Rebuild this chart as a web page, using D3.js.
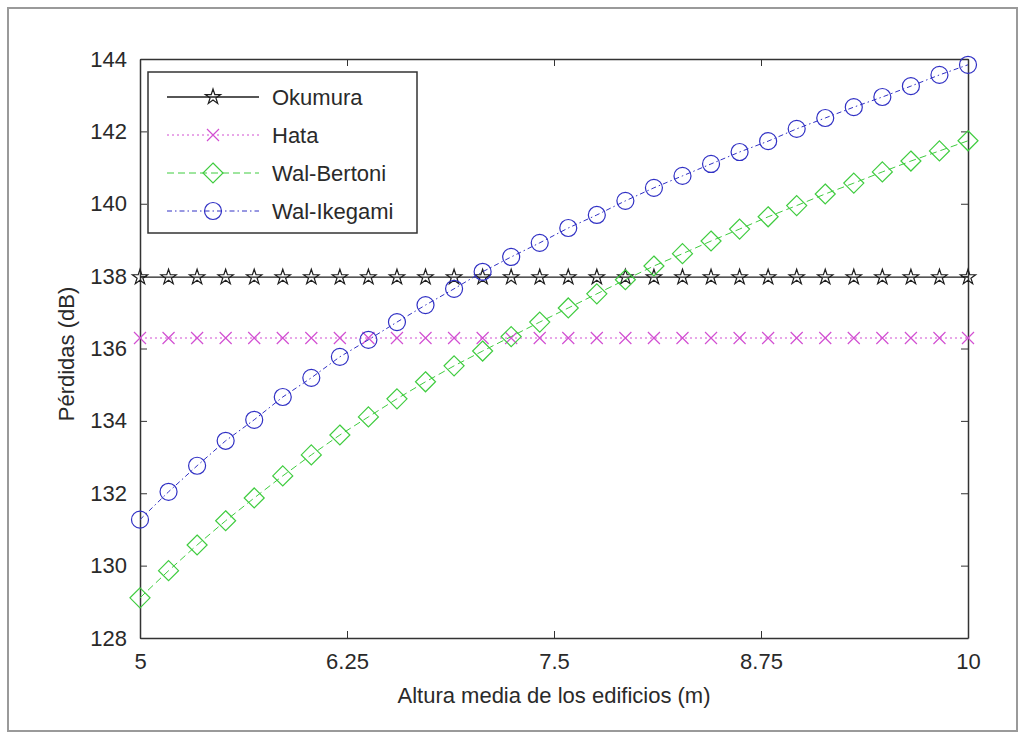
<!DOCTYPE html>
<html>
<head>
<meta charset="utf-8">
<script src="https://cdn.jsdelivr.net/npm/d3@7"></script>
<style>
  html, body { margin: 0; padding: 0; background: #fff; }
  svg { display: block; font-family: "Liberation Sans", Arial, sans-serif; }
</style>
</head>
<body>
<svg id="chart" width="1023" height="738"></svg>
<script>
// ---- data ----
const alturas = [5.0000, 5.1724, 5.3448, 5.5172, 5.6897, 5.8621, 6.0345, 6.2069, 6.3793, 6.5517,
                 6.7241, 6.8966, 7.0690, 7.2414, 7.4138, 7.5862, 7.7586, 7.9310, 8.1034, 8.2759,
                 8.4483, 8.6207, 8.7931, 8.9655, 9.1379, 9.3103, 9.4828, 9.6552, 9.8276, 10.0000];
const okumura = [137.97, 137.97, 137.97, 137.97, 137.97, 137.97, 137.97, 137.97, 137.97, 137.97,
                 137.97, 137.97, 137.97, 137.97, 137.97, 137.97, 137.97, 137.97, 137.97, 137.97,
                 137.97, 137.97, 137.97, 137.97, 137.97, 137.97, 137.97, 137.97, 137.97, 137.97];
const hata = [136.29, 136.29, 136.29, 136.29, 136.29, 136.29, 136.29, 136.29, 136.29, 136.29,
              136.29, 136.29, 136.29, 136.29, 136.29, 136.29, 136.29, 136.29, 136.29, 136.29,
              136.29, 136.29, 136.29, 136.29, 136.29, 136.29, 136.29, 136.29, 136.29, 136.29];
const walBertoni = [129.11, 129.86, 130.57, 131.24, 131.87, 132.48, 133.06, 133.61, 134.11, 134.61,
                    135.08, 135.52, 135.93, 136.33, 136.73, 137.12, 137.51, 137.90, 138.28, 138.62,
                    138.97, 139.30, 139.64, 139.95, 140.27, 140.57, 140.88, 141.18, 141.46, 141.74];
const walIkegami = [131.27, 132.04, 132.76, 133.45, 134.03, 134.66, 135.19, 135.77, 136.24, 136.73,
                    137.20, 137.65, 138.12, 138.53, 138.92, 139.33, 139.69, 140.08, 140.44, 140.77,
                    141.10, 141.43, 141.73, 142.07, 142.37, 142.67, 142.95, 143.25, 143.56, 143.84];
const seriesNames = ["Okumura", "Hata", "Wal-Bertoni", "Wal-Ikegami"];
const xTicks = [5, 6.25, 7.5, 8.75, 10];
const xTickLabels = ["5", "6.25", "7.5", "8.75", "10"];
const yTicks = [128, 130, 132, 134, 136, 138, 140, 142, 144];
const xTitle = "Altura media de los edificios (m)";
const yTitle = "Pérdidas (dB)";

// ---- layout ----
const svg = d3.select("#chart");
const W = 1023, H = 738;
const m = { left: 140, top: 59, right: 1023 - 968, bottom: 738 - 638 };
const pw = W - m.left - m.right, ph = H - m.top - m.bottom;

// outer figure frame
svg.append("rect").attr("x", 8).attr("y", 8).attr("width", 1009).attr("height", 723)
  .attr("fill", "#fff").attr("stroke", "#9a9a9a").attr("stroke-width", 2);

const x = d3.scaleLinear().domain([5, 10]).range([m.left, m.left + pw]);
const y = d3.scaleLinear().domain([128, 144]).range([m.top + ph, m.top]);

const axisColor = "#333";
const fontSize = 22;
const textColor = "#2a2a2a";

// axes box
const g = svg.append("g");
const xAxisB = d3.axisBottom(x).tickValues(xTicks).tickFormat((d, i) => xTickLabels[i])
  .tickSizeInner(-7).tickSizeOuter(0).tickPadding(15);
const xb = g.append("g").attr("transform", `translate(0,${m.top + ph})`).call(xAxisB);
const xAxisT = d3.axisTop(x).tickValues(xTicks).tickFormat("").tickSizeInner(-7).tickSizeOuter(0);
const xt = g.append("g").attr("transform", `translate(0,${m.top})`).call(xAxisT);
const yAxisL = d3.axisLeft(y).tickValues(yTicks).tickFormat(d3.format("d"))
  .tickSizeInner(-7).tickSizeOuter(0).tickPadding(13);
const yl = g.append("g").attr("transform", `translate(${m.left},0)`).call(yAxisL);
const yAxisR = d3.axisRight(y).tickValues(yTicks).tickFormat("").tickSizeInner(-7).tickSizeOuter(0);
const yr = g.append("g").attr("transform", `translate(${m.left + pw},0)`).call(yAxisR);

[xb, xt, yl, yr].forEach(a => {
  a.select(".domain").attr("stroke", axisColor).attr("stroke-width", 1.5);
  a.selectAll(".tick line").attr("stroke", axisColor).attr("stroke-width", 1);
  a.selectAll(".tick text").attr("fill", textColor).attr("font-size", fontSize)
    .attr("font-family", "'Liberation Sans', Arial, sans-serif");
});
xb.selectAll(".tick text").attr("dy", "0.71em");

// axis titles
svg.append("text").attr("x", x(7.5)).attr("y", 703).attr("text-anchor", "middle")
  .attr("font-size", fontSize).attr("fill", textColor).text(xTitle);
svg.append("text").attr("transform", `translate(74,354) rotate(-90)`)
  .attr("text-anchor", "middle").attr("font-size", fontSize).attr("fill", textColor).text(yTitle);

// ---- markers ----
function starPath(r) {
  const ri = r * 0.382; let p = "";
  for (let k = 0; k < 10; k++) {
    const rr = k % 2 === 0 ? r : ri;
    const a = -Math.PI / 2 + k * Math.PI / 5;
    p += (k === 0 ? "M" : "L") + (rr * Math.cos(a)).toFixed(2) + "," + (rr * Math.sin(a)).toFixed(2);
  }
  return p + "Z";
}
const markers = {
  star: starPath(8),
  x: "M-6,-6L6,6M-6,6L6,-6",
  diamond: "M0,-10L10,0L0,10L-10,0Z",
  circle: d3.symbol(d3.symbolCircle, Math.PI * 8.5 * 8.5)()
};

const series = [
  { name: seriesNames[0], values: okumura, color: "#1e1e1e", dash: null, marker: "star", width: 1.3 },
  { name: seriesNames[1], values: hata, color: "#d24fd2", dash: "2,3", marker: "x", width: 1 },
  { name: seriesNames[2], values: walBertoni, color: "#3fcc3f", dash: "7,4", marker: "diamond", width: 1 },
  { name: seriesNames[3], values: walIkegami, color: "#3030c4", dash: "5,3,1.5,3", marker: "circle", width: 1 }
];

const line = d3.line().x(d => x(d[0])).y(d => y(d[1]));
const plot = svg.append("g");
series.forEach(s => {
  const pts = alturas.map((a, i) => [a, s.values[i]]);
  plot.append("path").datum(pts).attr("d", line).attr("fill", "none")
    .attr("stroke", s.color).attr("stroke-width", s.width)
    .attr("stroke-dasharray", s.dash);
  plot.selectAll(null).data(pts).enter().append("path")
    .attr("transform", d => `translate(${x(d[0])},${y(d[1])})`)
    .attr("d", markers[s.marker]).attr("fill", "none")
    .attr("stroke", s.color).attr("stroke-width", 1.2);
});

// ---- legend ----
const lg = svg.append("g");
lg.append("rect").attr("x", 148).attr("y", 72).attr("width", 269).attr("height", 161)
  .attr("fill", "#fff").attr("stroke", axisColor).attr("stroke-width", 1.5);
series.forEach((s, i) => {
  const cy = 97 + i * 38;
  lg.append("line").attr("x1", 167).attr("x2", 259).attr("y1", cy).attr("y2", cy)
    .attr("stroke", s.color).attr("stroke-width", s.width).attr("stroke-dasharray", s.dash);
  lg.append("path").attr("transform", `translate(213,${cy})`).attr("d", markers[s.marker])
    .attr("fill", "none").attr("stroke", s.color).attr("stroke-width", 1.2);
  lg.append("text").attr("x", 272).attr("y", cy).attr("dy", "0.35em")
    .attr("font-size", fontSize).attr("fill", textColor).text(s.name);
});
</script>
</body>
</html>
